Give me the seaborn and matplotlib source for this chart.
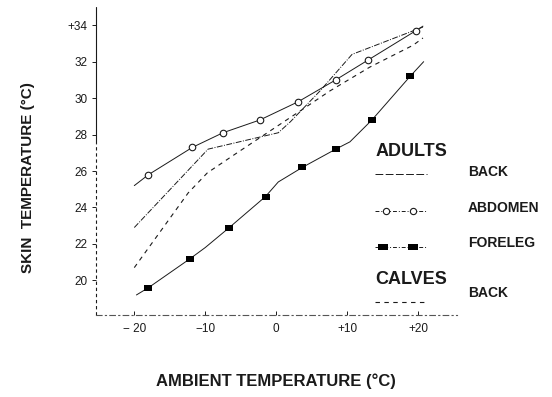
import matplotlib
matplotlib.use("Agg")
import matplotlib.pyplot as plt
import pandas as pd
import seaborn as sns

# ambient temperature (x) vs skin temperature (y)
abdomen_line_t = [-20, -18, -11.8, -7.5, -2.3, 3.1, 8.4, 13.0, 19.7, 20.7]
abdomen_line_y = [25.2, 25.8, 27.3, 28.1, 28.8, 29.8, 31.0, 32.1, 33.7, 33.95]
abdomen_pts_t = [-18, -11.8, -7.5, -2.3, 3.1, 8.4, 13.0, 19.7]
abdomen_pts_y = [25.8, 27.3, 28.1, 28.8, 29.8, 31.0, 32.1, 33.7]

foreleg_line_t = [-19.7, -18, -12.1, -10, -6.6, -1.5, 0.3, 3.7, 8.4, 10.4, 13.5, 18.9, 20.8]
foreleg_line_y = [19.2, 19.6, 21.2, 21.8, 22.9, 24.6, 25.4, 26.2, 27.2, 27.6, 28.8, 31.2, 32.0]
foreleg_pts_t = [-18, -12.1, -6.6, -1.5, 3.7, 8.4, 13.5, 18.9]
foreleg_pts_y = [19.6, 21.2, 22.9, 24.6, 26.2, 27.2, 28.8, 31.2]

adult_back_t = [-20, -9.6, 0.3, 2.0, 6.2, 10.7, 20.7]
adult_back_y = [22.9, 27.2, 28.1, 28.7, 30.4, 32.4, 33.9]

calf_back_t = [-20, -12.4, -9.7, -5.5, 3.4, 7.6, 13.2, 19.3, 20.7]
calf_back_y = [20.7, 24.8, 25.9, 27.0, 29.3, 30.4, 31.7, 32.9, 33.3]

y_ticks = [20, 22, 24, 26, 28, 30, 32, 34]
y_tick_labels = ["20", "22", "24", "26", "28", "30", "32", "+34"]
x_ticks = [-20, -10, 0, 10, 20]
x_tick_labels = ["\u2212 20", "\u221210", "0", "+10", "+20"]

sns.set_theme(style="white")
plt.rcParams["font.family"] = ["Liberation Sans", "DejaVu Sans"]
bold_font = ["Liberation Sans", "DejaVu Sans"]
ink = "#1a1a1a"
rect = [(-1.5, -1), (1.5, -1), (1.5, 1), (-1.5, 1)]  # wide filled square marker

fig = plt.figure(figsize=(5.52, 3.97), dpi=100)
ax = fig.add_axes([96 / 552, 1 - 315 / 397, 361 / 552, 308 / 397])

def frame(t, y):
    return pd.DataFrame({"t": t, "y": y})

sns.lineplot(data=frame(abdomen_line_t, abdomen_line_y), x="t", y="y", sort=False,
             estimator=None, color=ink, lw=0.7, ax=ax)
sns.scatterplot(data=frame(abdomen_pts_t, abdomen_pts_y), x="t", y="y", marker="o",
                s=22, facecolor="white", edgecolor=ink, linewidth=0.8, zorder=3, ax=ax)

sns.lineplot(data=frame(foreleg_line_t, foreleg_line_y), x="t", y="y", sort=False,
             estimator=None, color=ink, lw=0.7, ax=ax)
sns.scatterplot(data=frame(foreleg_pts_t, foreleg_pts_y), x="t", y="y", marker=rect,
                s=38, color="black", edgecolor="black", linewidth=0, zorder=3, ax=ax)

sns.lineplot(data=frame(adult_back_t, adult_back_y), x="t", y="y", sort=False,
             estimator=None, color=ink, lw=0.7, ax=ax)
ax.lines[-1].set_dashes([6, 1.5, 1, 1.5])

sns.lineplot(data=frame(calf_back_t, calf_back_y), x="t", y="y", sort=False,
             estimator=None, color=ink, lw=0.8, ax=ax)
ax.lines[-1].set_dashes([4, 4])

ax.set_xlim(-25.4, 25.5)
ax.set_ylim(18.1, 35.0)
ax.set_yticks(y_ticks)
ax.set_yticklabels(y_tick_labels, fontsize=8.5, color=ink)
ax.set_xticks(x_ticks)
ax.set_xticklabels(x_tick_labels, fontsize=8.5, color=ink)
ax.tick_params(axis="y", direction="out", length=3, width=0.7, color=ink, pad=3, left=True)
ax.tick_params(axis="x", direction="in", length=3, width=0.7, color=ink, pad=6, bottom=True)
ax.set_xlabel("")
ax.set_ylabel("")
ax.grid(False)

for side in ["top", "right", "left"]:
    ax.spines[side].set_visible(False)
ax.spines["bottom"].set_linewidth(0.8)
ax.spines["bottom"].set_color("#555555")
ax.spines["bottom"].set_linestyle((0, (5, 3, 1, 3)))
# left axis: solid in the upper part, broken lower down
ax.plot([0, 0], [0.56, 1.0], transform=ax.transAxes, color=ink, lw=0.8, clip_on=False)
ax.plot([0, 0], [0.0, 0.56], transform=ax.transAxes, color=ink, lw=0.8,
        dashes=[3, 2.5], clip_on=False)

# legend drawn by hand, as in the figure
lx0, lx1, tx = 0.773, 0.917, 1.03
head = dict(transform=ax.transAxes, family=bold_font, fontweight="bold", fontsize=13,
            va="center", ha="left", color=ink)
item = dict(head, fontsize=10)

ax.text(lx0, 0.532, "ADULTS", **head)
ax.plot([lx0, lx1], [0.458, 0.458], transform=ax.transAxes, color=ink, lw=0.7,
        dashes=[8, 2.5], clip_on=False)
ax.text(tx, 0.464, "BACK", **item)

ax.plot([lx0, lx1], [0.338, 0.338], transform=ax.transAxes, color=ink, lw=0.7,
        dashes=[4, 2, 1, 2], clip_on=False)
ax.plot([0.803, 0.878], [0.338, 0.338], transform=ax.transAxes, ls="none", marker="o",
        ms=4.5, mfc="white", mec=ink, mew=0.8, clip_on=False)
ax.text(tx, 0.347, "ABDOMEN", **item)

ax.plot([lx0, lx1], [0.221, 0.221], transform=ax.transAxes, color=ink, lw=0.7,
        dashes=[4, 2, 1, 2], clip_on=False)
ax.plot([0.795, 0.878], [0.221, 0.221], transform=ax.transAxes, ls="none", marker=rect,
        ms=7, color="black", mew=0, clip_on=False)
ax.text(tx, 0.234, "FORELEG", **item)

ax.text(lx0, 0.114, "CALVES", **head)
ax.plot([lx0, lx1], [0.042, 0.042], transform=ax.transAxes, color=ink, lw=0.8,
        dashes=[4, 4], clip_on=False)
ax.text(tx, 0.071, "BACK", **item)

fig.text(276 / 552, 1 - 381 / 397, "AMBIENT TEMPERATURE (\u00b0C)", family=bold_font,
         fontweight="bold", fontsize=12, ha="center", va="center", color=ink)
fig.text(28 / 552, 1 - 178 / 397, "SKIN  TEMPERATURE (\u00b0C)", family=bold_font,
         fontweight="bold", fontsize=11, rotation=90, ha="center", va="center", color=ink)

fig.savefig("out.png", dpi=100)
